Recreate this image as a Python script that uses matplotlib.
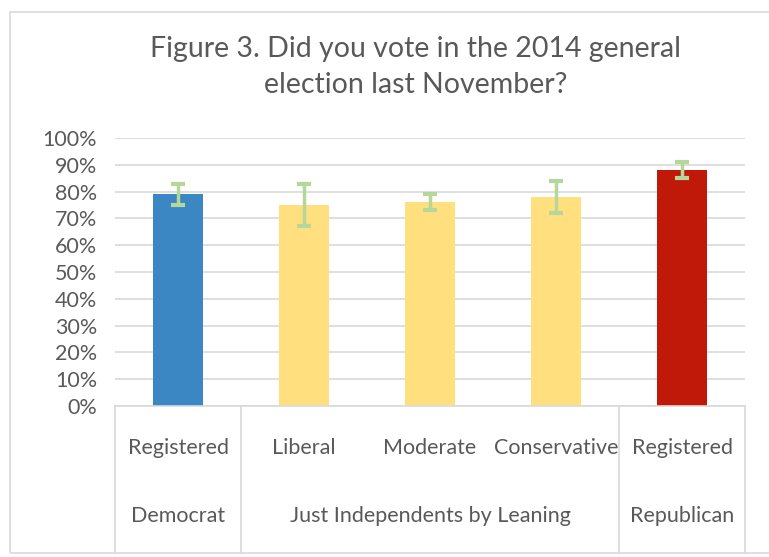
import numpy as np
import matplotlib.pyplot as plt
from matplotlib.patches import Rectangle
from matplotlib.lines import Line2D

plt.rcParams['font.family'] = ['Lato', 'DejaVu Sans']

# data
sub_labels = ['Registered', 'Liberal', 'Moderate', 'Conservative', 'Registered']
group_labels = ['Democrat', 'Just Independents by Leaning', 'Republican']
group_spans = [(0, 0), (1, 3), (4, 4)]
values = [0.79, 0.75, 0.76, 0.78, 0.88]
err_low = [0.75, 0.67, 0.73, 0.72, 0.85]
err_high = [0.83, 0.83, 0.79, 0.84, 0.91]
colors = ['#3A87C3', '#FFDF7E', '#FFDF7E', '#FFDF7E', '#C0190A']

W, H = 769, 557
fig = plt.figure(figsize=(W / 100, H / 100), dpi=100)

# chart frame
fig.patches.append(Rectangle((10 / W, 4 / H), 1.0, (553 - 12) / H, transform=fig.transFigure,
                             fill=False, edgecolor='#D9D9D9', lw=1.2))

ax = fig.add_axes([115 / W, (H - 406) / H, 630 / W, 268 / H])
x = np.arange(len(values))
ax.bar(x, values, width=0.4, color=colors, zorder=2)
vals = np.array(values)
yerr = [vals - np.array(err_low), np.array(err_high) - vals]
ax.errorbar(x, vals, yerr=yerr, fmt='none', ecolor='#B5D79A', elinewidth=2.5,
            capsize=5, capthick=3, zorder=3)

ax.set_xlim(-0.5, len(values) - 0.5)
ax.set_ylim(0, 1)
ax.set_yticks(np.arange(0, 1.01, 0.1))
ax.set_yticklabels([f'{int(round(v * 100))}%' for v in np.arange(0, 1.01, 0.1)])
ax.grid(axis='y', color='#D9D9D9', lw=1.2, zorder=0)
ax.set_axisbelow(True)
for s in ['left', 'right', 'top']:
    ax.spines[s].set_visible(False)
ax.spines['bottom'].set_color('#D9D9D9')
ax.spines['bottom'].set_linewidth(1.2)
ax.tick_params(axis='y', length=0, labelsize=15.5, colors='#595959', pad=13)
ax.set_xticks(x)
ax.set_xticklabels(sub_labels)
ax.tick_params(axis='x', length=0, labelsize=15.5, colors='#595959', pad=23)

# category separators and group labels
depth = -(553 - 406) / 268
for sep in [-0.5, 0.5, 3.5, 4.5]:
    ax.add_line(Line2D([sep, sep], [0, depth], color='#D9D9D9', lw=1.2, clip_on=False))
for lab, (a, b) in zip(group_labels, group_spans):
    ax.text((a + b) / 2, -(516 - 406) / 268, lab, ha='center', va='center',
            fontsize=15.5, color='#595959', transform=ax.get_xaxis_transform())

fig.text(416 / W, 1 - 67 / H, 'Figure 3. Did you vote in the 2014 general\nelection last November?',
         ha='center', va='center', fontsize=20.5, color='#595959', linespacing=1.45)

fig.savefig('out.png', dpi=100)
